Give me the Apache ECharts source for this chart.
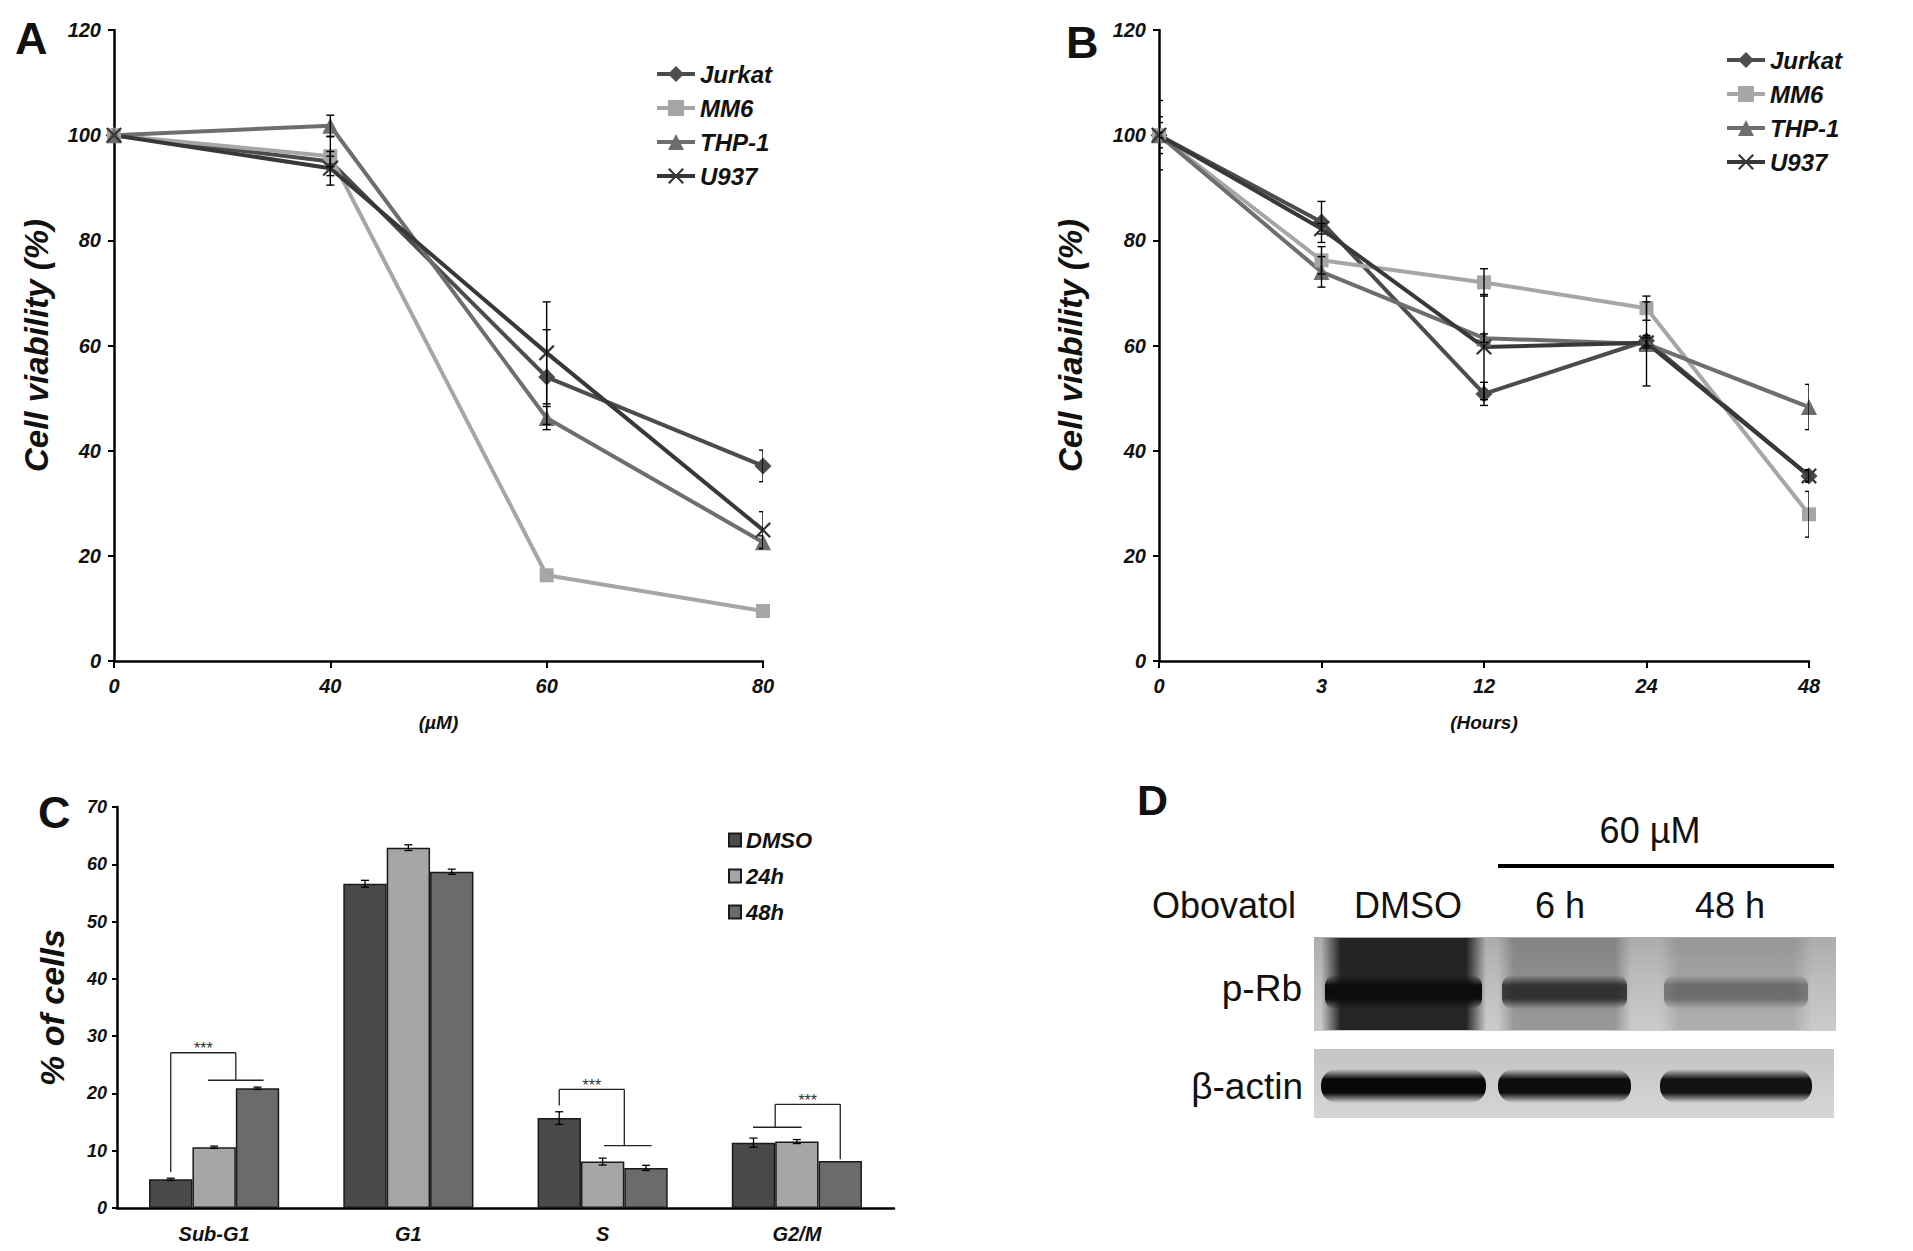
<!DOCTYPE html>
<html><head><meta charset="utf-8">
<script src="https://cdn.jsdelivr.net/npm/echarts@6/dist/echarts.min.js"></script>
<style>html,body{margin:0;padding:0;background:#fff}#c{width:1913px;height:1251px}</style>
</head><body><div id="c"></div>
<script>
// ---------- DATA ----------
const cellLines = ['Jurkat', 'MM6', 'THP-1', 'U937'];
const doseLabels = ['0', '40', '60', '80'];
const timeLabels = ['0', '3', '12', '24', '48'];

// Panel A: viability vs dose (µM)
const doseJurkat = [100, 95.0, 54.0, 37.1];
const doseMM6    = [100, 96.0, 16.3, 9.5];
const doseTHP1   = [100, 101.8, 46.2, 22.6];
const doseU937   = [100, 93.7, 58.6, 24.9];
const doseErrJurkat = [0, 1.0, 9.0, 3.0];
const doseErrMM6    = [0, 3.7, 0, 0];
const doseErrTHP1   = [0, 2.0, 2.2, 1.2];
const doseErrU937   = [0, 3.2, 9.7, 3.5];

// Panel B: viability vs time (hours)
const timeJurkat = [100, 83.5, 50.8, 60.9, 35.2];
const timeMM6    = [100, 76.2, 72.0, 67.1, 27.9];
const timeTHP1   = [100, 74.0, 61.4, 60.3, 48.3];
const timeU937   = [100, 82.2, 59.7, 60.5, 35.2];
const timeErrJurkat = [6.6, 3.9, 2.2, 1.0, 1.2];
const timeErrMM6    = [2.4, 2.6, 2.6, 2.3, 4.35];
const timeErrTHP1   = [3.5, 2.9, 0.8, 8.0, 4.3];
const timeErrU937   = [0.5, 1.0, 10.0, 1.0, 1.0];

// Panel C: cell cycle distribution
const phases = ['Sub-G1', 'G1', 'S', 'G2/M'];
const cycleGroups = ['DMSO', '24h', '48h'];
const cycleDMSO = [5.0, 56.6, 15.7, 11.4];
const cycle24h  = [10.6, 62.9, 8.1, 11.6];
const cycle48h  = [20.9, 58.7, 7.0, 8.2];
const cycleErrDMSO = [0.2, 0.6, 1.1, 0.8];
const cycleErr24h  = [0.2, 0.5, 0.6, 0.35];
const cycleErr48h  = [0.2, 0.45, 0.45, 0];
// significance brackets (bar units: 0=DMSO,1=24h,2=48h centres), values in %
const sigBrackets = [
  {cat: 0, left: 0,   right: 1.5, leftBottom: 6.3,  rightBottom: 22.3, top: 27.1, groupFrom: 0.86,  groupTo: 2.14, groupY: 22.3, label: '***'},
  {cat: 2, left: 0,   right: 1.5, leftBottom: 17.9, rightBottom: 10.9, top: 20.7, groupFrom: 1.03,  groupTo: 2.13, groupY: 10.9, label: '***'},
  {cat: 3, left: 0.5, right: 2,   leftBottom: 14.1, rightBottom: 8.5,  top: 18.1, groupFrom: -0.01, groupTo: 1.11, groupY: 14.1, label: '***'}
];

// Panel D: western blot
const blotLanes = ['DMSO', '6 h', '48 h'];
const blotProteins = ['p-Rb', 'β-actin'];
const pRbSignal = [1.0, 0.8, 0.42];
const actinSignal = [1.0, 0.97, 0.95];

// ---------- STYLE ----------
const FONT = '"Liberation Sans", Arial, Helvetica, sans-serif';
const lineColors = {'Jurkat': '#4c4c4c', 'MM6': '#a6a6a6', 'THP-1': '#6e6e6e', 'U937': '#383838'};
const CROSS = 'path://M1,0 L5,4 L9,0 L10,1 L6,5 L10,9 L9,10 L5,6 L1,10 L0,9 L4,5 L0,1 Z';
const lineSymbols = {'Jurkat': ['diamond', 17], 'MM6': ['rect', 14], 'THP-1': ['triangle', 16], 'U937': [CROSS, 16]};
const barColors = {'DMSO': '#4a4a4a', '24h': '#a6a6a6', '48h': '#6b6b6b'};
const CAT_GAP = 0.33;
const bi = {fontFamily: FONT, fontStyle: 'italic', fontWeight: 'bold', color: '#111'};

function lineSeries(name, data, idx) {
  return {
    type: 'line', name, data, xAxisIndex: idx, yAxisIndex: idx,
    symbol: lineSymbols[name][0], symbolSize: lineSymbols[name][1],
    lineStyle: {color: lineColors[name], width: 4},
    itemStyle: {color: lineColors[name]},
    z: 3, animation: false
  };
}
function errorSeries(idx, valueSets, errSets) {
  const data = [];
  valueSets.forEach((vals, s) => vals.forEach((v, i) => {
    if (errSets[s][i] > 0) data.push([i, v, errSets[s][i]]);
  }));
  return {
    type: 'custom', xAxisIndex: idx, yAxisIndex: idx, clip: true, silent: true, z: 6,
    encode: {x: 0, y: 1}, data, animation: false,
    renderItem(params, api) {
      const x = api.value(0), v = api.value(1), e = api.value(2);
      const hi = api.coord([x, v + e]), lo = api.coord([x, v - e]);
      const w = 4, st = {stroke: '#000', lineWidth: 1.4};
      return {type: 'group', children: [
        {type: 'line', shape: {x1: hi[0], y1: hi[1], x2: lo[0], y2: lo[1]}, style: st},
        {type: 'line', shape: {x1: hi[0] - w, y1: hi[1], x2: hi[0] + w, y2: hi[1]}, style: st},
        {type: 'line', shape: {x1: lo[0] - w, y1: lo[1], x2: lo[0] + w, y2: lo[1]}, style: st}
      ]};
    }
  };
}
function lineXAxis(idx, labels, name) {
  return {
    type: 'category', gridIndex: idx, data: labels, boundaryGap: false,
    axisLine: {lineStyle: {color: '#000', width: 2.5}},
    axisTick: {length: 7, lineStyle: {color: '#000', width: 2}},
    axisLabel: Object.assign({fontSize: 20, margin: 15}, bi),
    splitLine: {show: false},
    name, nameLocation: 'middle', nameGap: 52,
    nameTextStyle: Object.assign({fontSize: 19}, bi)
  };
}
function lineYAxis(idx, gap) {
  return {
    type: 'value', gridIndex: idx, min: 0, max: 120, interval: 20,
    axisLine: {show: true, lineStyle: {color: '#000', width: 2.5}},
    axisTick: {show: true, length: 6, lineStyle: {color: '#000', width: 2}},
    axisLabel: Object.assign({fontSize: 20, margin: 13}, bi),
    splitLine: {show: false},
    name: 'Cell viability (%)', nameLocation: 'middle', nameGap: gap,
    nameTextStyle: Object.assign({fontSize: 33}, bi)
  };
}

const series = [];
const doseSets = [doseJurkat, doseMM6, doseTHP1, doseU937];
const timeSets = [timeJurkat, timeMM6, timeTHP1, timeU937];
cellLines.forEach((n, k) => series.push(lineSeries(n, doseSets[k], 0)));
series.push(errorSeries(0, doseSets, [doseErrJurkat, doseErrMM6, doseErrTHP1, doseErrU937]));
cellLines.forEach((n, k) => series.push(lineSeries(n, timeSets[k], 1)));
series.push(errorSeries(1, timeSets, [timeErrJurkat, timeErrMM6, timeErrTHP1, timeErrU937]));

const cycleSets = [cycleDMSO, cycle24h, cycle48h];
const cycleErrs = [cycleErrDMSO, cycleErr24h, cycleErr48h];
cycleGroups.forEach((g, k) => series.push({
  type: 'bar', name: g, data: cycleSets[k], xAxisIndex: 2, yAxisIndex: 2,
  barGap: '0%', barCategoryGap: (CAT_GAP * 100) + '%',
  itemStyle: {color: barColors[g], borderColor: '#1a1a1a', borderWidth: 1.5},
  animation: false
}));
const cycErrData = [];
cycleSets.forEach((vals, s) => vals.forEach((v, i) => {
  if (cycleErrs[s][i] > 0) cycErrData.push([i, v, cycleErrs[s][i], s]);
}));
series.push({
  type: 'custom', xAxisIndex: 2, yAxisIndex: 2, silent: true, z: 6, encode: {x: 0, y: 1},
  data: cycErrData, animation: false,
  renderItem(params, api) {
    const i = api.value(0), v = api.value(1), e = api.value(2), s = api.value(3);
    const band = api.size([1, 0])[0];
    const barW = band * (1 - CAT_GAP) / 3;
    const cx = api.coord([i, v])[0] + (s - 1) * barW;
    const yh = api.coord([i, v + e])[1], yl = api.coord([i, v - e])[1];
    const w = 4, st = {stroke: '#000', lineWidth: 1.3};
    return {type: 'group', children: [
      {type: 'line', shape: {x1: cx, y1: yh, x2: cx, y2: yl}, style: st},
      {type: 'line', shape: {x1: cx - w, y1: yh, x2: cx + w, y2: yh}, style: st},
      {type: 'line', shape: {x1: cx - w, y1: yl, x2: cx + w, y2: yl}, style: st}
    ]};
  }
});
series.push({
  type: 'custom', xAxisIndex: 2, yAxisIndex: 2, silent: true, z: 7, encode: {x: 0, y: 1},
  data: sigBrackets.map(b => [b.cat, b.top]), animation: false,
  renderItem(params, api) {
    const b = sigBrackets[params.dataIndex];
    const band = api.size([1, 0])[0];
    const barW = band * (1 - CAT_GAP) / 3;
    const c0 = api.coord([b.cat, 0])[0];
    const X = k => c0 + (k - 1) * barW;
    const Y = v => api.coord([b.cat, v])[1];
    const st = {stroke: '#222', lineWidth: 1.3};
    const xl = X(b.left), xr = X(b.right), yt = Y(b.top);
    return {type: 'group', children: [
      {type: 'line', shape: {x1: xl, y1: Y(b.leftBottom), x2: xl, y2: yt}, style: st},
      {type: 'line', shape: {x1: xl, y1: yt, x2: xr, y2: yt}, style: st},
      {type: 'line', shape: {x1: xr, y1: yt, x2: xr, y2: Y(b.rightBottom)}, style: st},
      {type: 'line', shape: {x1: X(b.groupFrom), y1: Y(b.groupY), x2: X(b.groupTo), y2: Y(b.groupY)}, style: st},
      {type: 'text', style: {text: b.label, x: (xl + xr) / 2, y: yt + 4,
        align: 'center', verticalAlign: 'bottom', textAlign: 'center', textVerticalAlign: 'bottom',
        fontFamily: FONT, fontSize: 16, fill: '#333'}}
    ]};
  }
});

// ---------- Panel D graphics ----------
const laneX = [[1321, 1486], [1498, 1631], [1660, 1812]];
const laneLabelX = [1408, 1560, 1730];
function hFade(c0, a) {
  return {type: 'linear', x: 0, y: 0, x2: 1, y2: 0, colorStops: [
    {offset: 0, color: 'rgba(' + c0 + ',0)'}, {offset: 0.12, color: 'rgba(' + c0 + ',' + a + ')'},
    {offset: 0.88, color: 'rgba(' + c0 + ',' + a + ')'}, {offset: 1, color: 'rgba(' + c0 + ',0)'}]};
}
function vFade(c0, a) {
  return {type: 'linear', x: 0, y: 0, x2: 0, y2: 1, colorStops: [
    {offset: 0, color: 'rgba(' + c0 + ',0)'}, {offset: 0.3, color: 'rgba(' + c0 + ',' + a + ')'},
    {offset: 0.7, color: 'rgba(' + c0 + ',' + a + ')'}, {offset: 1, color: 'rgba(' + c0 + ',0)'}]};
}
function txt(text, x, y, size, align, weight) {
  return {type: 'text', silent: true, style: {text, x, y, fontSize: size, fontFamily: FONT,
    fontWeight: weight || 'normal', fill: '#111', align, verticalAlign: 'middle',
    textAlign: align, textVerticalAlign: 'middle'}};
}
const graphics = [
  txt('A', 15, 38, 45, 'left', 'bold'),
  txt('B', 1066, 42, 45, 'left', 'bold'),
  txt('C', 38, 812, 45, 'left', 'bold'),
  txt('D', 1137, 800, 43, 'left', 'bold'),
  txt('60 µM', 1650, 830, 36, 'center'),
  {type: 'rect', silent: true, shape: {x: 1498, y: 864, width: 336, height: 4}, style: {fill: '#000'}},
  txt('Obovatol', 1152, 905, 36, 'left'),
  txt(blotProteins[0], 1302, 988, 37, 'right'),
  txt(blotProteins[1], 1303, 1086, 37, 'right'),
  // p-Rb membrane
  {type: 'rect', silent: true, shape: {x: 1314, y: 937, width: 522, height: 94},
    style: {fill: {type: 'linear', x: 0, y: 0, x2: 0, y2: 1, colorStops: [
      {offset: 0, color: '#acacac'}, {offset: 0.5, color: '#bebebe'}, {offset: 1, color: '#cbcbcb'}]}}},
  // beta-actin membrane
  {type: 'rect', silent: true, shape: {x: 1314, y: 1049, width: 520, height: 69},
    style: {fill: {type: 'linear', x: 0, y: 0, x2: 0, y2: 1, colorStops: [
      {offset: 0, color: '#c4c4c4'}, {offset: 1, color: '#d6d6d6'}]}}}
];
blotLanes.forEach((lane, k) => {
  const [x0, x1] = laneX[k];
  graphics.push(txt(lane, laneLabelX[k], 905, 36, 'center'));
  const s = pRbSignal[k];
  // diffuse smear over the whole lane
  graphics.push({type: 'rect', silent: true, shape: {x: x0, y: 938, width: x1 - x0, height: 92},
    style: {fill: hFade('25,25,25', (s > 0.9 ? 0.93 : s * 0.35).toFixed(2))}});
  // main band
  graphics.push({type: 'rect', silent: true, shape: {x: x0 + 4, y: 975, width: x1 - x0 - 8, height: 34, r: 10},
    style: {fill: vFade('12,12,12', (s > 0.9 ? 1 : s * 0.9).toFixed(2))}});
  // actin band
  const a = actinSignal[k];
  graphics.push({type: 'rect', silent: true, shape: {x: x0, y: 1069, width: x1 - x0, height: 34, r: 16},
    style: {fill: vFade('8,8,8', a.toFixed(2))}});
});

const legendText = Object.assign({fontSize: 24, lineHeight: 24}, bi);
const option = {
  backgroundColor: '#fff',
  animation: false,
  grid: [
    {left: 114, top: 30, width: 649, height: 631, containLabel: false, outerBoundsMode: 'none'},
    {left: 1159, top: 30, width: 650, height: 631, containLabel: false, outerBoundsMode: 'none'},
    {left: 117, top: 807, width: 777, height: 401, containLabel: false, outerBoundsMode: 'none'}
  ],
  xAxis: [
    lineXAxis(0, doseLabels, '(µM)'),
    lineXAxis(1, timeLabels, '(Hours)'),
    {type: 'category', gridIndex: 2, data: phases, boundaryGap: true,
      axisLine: {lineStyle: {color: '#000', width: 2.5}},
      axisTick: {length: 8, lineStyle: {color: '#000', width: 2}},
      axisLabel: Object.assign({fontSize: 20, margin: 16}, bi), splitLine: {show: false}}
  ],
  yAxis: [
    lineYAxis(0, 61),
    lineYAxis(1, 72),
    {type: 'value', gridIndex: 2, min: 0, max: 70, interval: 10,
      axisLine: {show: true, lineStyle: {color: '#000', width: 2.5}},
      axisTick: {show: true, length: 5, lineStyle: {color: '#000', width: 2}},
      axisLabel: Object.assign({fontSize: 18, margin: 10}, bi), splitLine: {show: false},
      name: '% of cells', nameLocation: 'middle', nameGap: 48,
      nameTextStyle: Object.assign({fontSize: 34}, bi)}
  ],
  legend: [
    {data: cellLines, left: 650, top: 57, orient: 'vertical', itemWidth: 38, itemHeight: 20, itemGap: 10,
      selectedMode: false, lineStyle: {width: 4}, textStyle: legendText},
    {data: cellLines, left: 1720, top: 43, orient: 'vertical', itemWidth: 38, itemHeight: 20, itemGap: 10,
      selectedMode: false, lineStyle: {width: 4}, textStyle: legendText},
    {data: cycleGroups, left: 723, top: 823, orient: 'vertical', itemWidth: 12, itemHeight: 13, itemGap: 12,
      icon: 'rect', selectedMode: false, textStyle: Object.assign({fontSize: 22, lineHeight: 24}, bi)}
  ],
  graphic: {elements: graphics},
  series
};
const chart = echarts.init(document.getElementById('c'), null, {renderer: 'svg'});
chart.setOption(option);
</script>
</body></html>
